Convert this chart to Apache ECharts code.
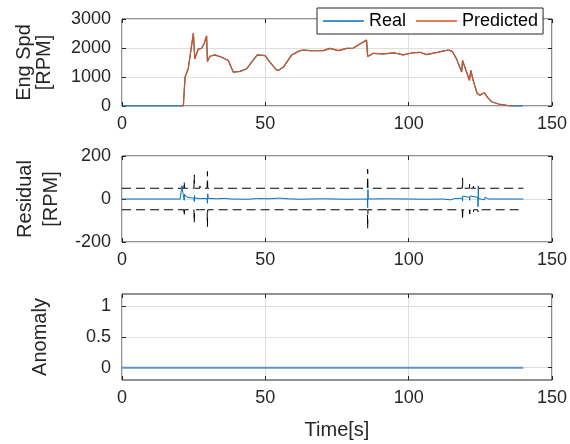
<!DOCTYPE html>
<html><head><meta charset="utf-8">
<script src="https://cdn.jsdelivr.net/npm/echarts@6/dist/echarts.min.js"></script>
<style>html,body{margin:0;padding:0;background:#fff}#c{width:570px;height:444px}</style>
</head><body><div id="c"></div>
<script>
// ---- data ----
const engT = [0, 20.3, 20.9, 21.4, 22.0, 23.1, 24.9, 25.4, 26.6, 27.8, 28.6, 29.5, 29.8, 30.7, 32.4, 34.8, 37.1, 38.8, 41.2, 43.5, 45.2, 47.2, 49.9, 51.6, 53.7, 54.5, 56.3, 59.2, 62.1, 63.3, 65.6, 68.0, 70.2, 72.6, 75.5, 78.4, 80.7, 83.0, 85.3, 85.7, 87.7, 91.1, 95.2, 98.1, 101.0, 103.9, 106.2, 109.1, 111.5, 113.8, 115.2, 116.7, 118.5, 118.8, 121.2, 121.7, 122.5, 123.9, 124.9, 126.4, 127.8, 129.0, 131.3, 134.2, 136.5, 139.9];
const realRPM = [0, 0, 60, 20, 1000, 1284, 2511, 1625, 1966, 1989, 2136, 2420, 1534, 1716, 1761, 1682, 1568, 1170, 1193, 1284, 1511, 1761, 1738, 1511, 1261, 1227, 1341, 1761, 1909, 1931, 1908, 1905, 1908, 1988, 1908, 1988, 2000, 2136, 2272, 1704, 1818, 1795, 1829, 1761, 1829, 1852, 1772, 1829, 1886, 1932, 1886, 1625, 1170, 1568, 886, 1227, 886, 432, 375, 455, 261, 148, 68, 23, 0, 0];
const predRPM = [null, 0, 35, 0, 1000, 1284, 2511, 1625, 1966, 1989, 2136, 2420, 1534, 1716, 1761, 1682, 1568, 1170, 1193, 1284, 1511, 1761, 1738, 1511, 1261, 1227, 1341, 1761, 1909, 1931, 1908, 1905, 1908, 1988, 1908, 1988, 2000, 2136, 2272, 1704, 1818, 1795, 1829, 1761, 1829, 1852, 1772, 1829, 1886, 1932, 1886, 1625, 1170, 1568, 886, 1227, 886, 432, 375, 455, 261, 148, 68, 23, 0, null];

const resT = [0, 20.3, 20.9, 21.3, 21.6, 21.7, 21.8, 22.4, 23.5, 25.1, 25.2, 25.3, 25.5, 27.5, 29.7, 29.8, 29.9, 30.1, 33, 36, 38, 44, 47, 51, 55, 58, 62, 70, 78, 85.6, 85.7, 85.8, 85.9, 92, 100, 106, 112, 114.6, 115, 116, 118.7, 118.8, 118.9, 119.5, 121.2, 121.3, 121.4, 122, 124.1, 124.2, 124.3, 124.4, 126.5, 126.6, 126.7, 128, 140];
const resV = [0, 0, 62, 25, 16, -6, 22, 10, 6, 4, -12, 16, 4, 2, 2, -20, 24, 3, 1, 3, 0, -1, 2, 1, 4, 1, -1, 1, -1, 0, -40, 44, 0, 1, 0, -1, 0, -4, -7, 2, 4, -10, 14, 6, 7, -6, 14, 8, 8, -36, 52, 2, -4, 8, 0, 0, 0];

const thrT = [0, 21.6, 21.7, 21.8, 25.1, 25.2, 25.3, 27.1, 27.2, 27.3, 29.7, 29.8, 29.9, 85.6, 85.7, 85.8, 118.7, 118.8, 118.9, 121.2, 121.3, 121.4, 122.5, 122.6, 122.7, 124.1, 124.2, 124.3, 140];
const thrUp = [50, 50, 82, 50, 50, 112, 50, 50, 60, 50, 50, 128, 50, 50, 138, 50, 50, 98, 50, 50, 70, 50, 50, 60, 50, 50, 62, 50, 50];
const thrLo = [-50, -50, -80, -50, -50, -111, -50, -50, -58, -50, -50, -129, -50, -50, -138, -50, -50, -98, -50, -50, -70, -50, -50, -60, -50, -50, -60, -50, -50];

const anomT = [0, 140];
const anomV = [0, 0];

const xTicks = {min: 0, max: 150, interval: 50};
const yEng = {min: 0, max: 3000, interval: 1000};
const yRes = {min: -200, max: 200, interval: 200};
const yAnom = {min: -0.2, max: 1.2, ticks: [0, 0.5, 1]};

// ---- chart ----
const FONT = '"Liberation Sans", Arial, Helvetica, sans-serif';
const AX = '#262626';
const GRIDC = '#dedede';
const pairs = (t, v) => t.map((x, i) => [x, v[i]]);
const fmt = v => String(v);

const grids = [
  {left: 122, top: 19, width: 430, height: 87},
  {left: 122, top: 156, width: 430, height: 86},
  {left: 122, top: 294, width: 430, height: 86}
].map(g => Object.assign(g, {show: true, borderColor: AX, borderWidth: 1, backgroundColor: 'transparent'}));

function tick() { return {show: true, inside: true, length: 4, lineStyle: {color: AX, width: 1}}; }

const xAxes = [], yAxes = [];
for (let i = 0; i < 3; i++) {
  xAxes.push({
    type: 'value', gridIndex: i, position: 'bottom', min: xTicks.min, max: xTicks.max, interval: xTicks.interval,
    axisLine: {show: false, onZero: false}, axisTick: tick(),
    axisLabel: {color: AX, fontSize: 18, margin: 9, fontFamily: FONT, formatter: fmt},
    splitLine: {show: true, lineStyle: {color: GRIDC, width: 1}},
    name: i === 2 ? 'Time[s]' : '', nameLocation: 'middle', nameGap: 40,
    nameTextStyle: {color: AX, fontSize: 20, fontFamily: FONT}
  });
  xAxes.push({
    type: 'value', gridIndex: i, position: 'top', min: xTicks.min, max: xTicks.max, interval: xTicks.interval,
    axisLine: {show: false, onZero: false}, axisTick: tick(), axisLabel: {show: false}, splitLine: {show: false}
  });
}
const ySpecs = [
  {r: yEng, name: 'Eng Spd\n[RPM]', gap: 68, lh: 20},
  {r: yRes, name: 'Residual\n[RPM]', gap: 46, lh: 26},
  {r: yAnom, name: 'Anomaly', gap: 72, lh: 20}
];
ySpecs.forEach((s, i) => {
  const base = {type: 'value', gridIndex: i, min: s.r.min, max: s.r.max};
  if (s.r.interval) base.interval = s.r.interval;
  const tk = tick();
  if (s.r.ticks) tk.customValues = s.r.ticks;
  const lab = {color: AX, fontSize: 18, margin: 11, fontFamily: FONT, formatter: fmt};
  if (s.r.ticks) lab.customValues = s.r.ticks;
  yAxes.push(Object.assign({}, base, {
    position: 'left', axisLine: {show: false, onZero: false}, axisTick: tk, axisLabel: lab,
    splitLine: {show: true, lineStyle: {color: GRIDC, width: 1}},
    name: s.name, nameLocation: 'middle', nameRotate: 90, nameGap: s.gap,
    nameTextStyle: {color: AX, fontSize: 20, lineHeight: s.lh, fontFamily: FONT}
  }));
  const tk2 = tick();
  if (s.r.ticks) tk2.customValues = s.r.ticks;
  yAxes.push(Object.assign({}, base, {
    position: 'right', axisLine: {show: false, onZero: false}, axisTick: tk2, axisLabel: {show: false}, splitLine: {show: false}
  }));
});

const BLUE = '#0072BD', RED = '#D95319';
const option = {
  animation: false,
  textStyle: {fontFamily: FONT},
  grid: grids,
  xAxis: xAxes,
  yAxis: yAxes,
  legend: {
    data: [{name: 'Real', icon: 'rect'}, {name: 'Predicted', icon: 'rect'}], left: 317, top: 8, orient: 'horizontal',
    backgroundColor: '#fff', borderColor: AX, borderWidth: 1, borderRadius: 0,
    padding: [4, 5, 4, 6], itemWidth: 41, itemHeight: 1.3, itemGap: 10,
    textStyle: {color: '#000', fontSize: 18, fontFamily: FONT}
  },
  series: [
    {name: 'Real', type: 'line', xAxisIndex: 0, yAxisIndex: 0, data: pairs(engT, realRPM), symbol: 'none',
     clip: false, lineStyle: {color: BLUE, width: 1.2}, itemStyle: {color: BLUE}, z: 2},
    {name: 'Predicted', type: 'line', xAxisIndex: 0, yAxisIndex: 0, data: pairs(engT, predRPM), symbol: 'none',
     clip: false, lineStyle: {color: RED, width: 1.2}, itemStyle: {color: RED}, z: 3},
    {name: 'ThrUp', type: 'line', xAxisIndex: 2, yAxisIndex: 2, data: pairs(thrT, thrUp), symbol: 'none',
     lineStyle: {color: '#000', width: 1, type: [9, 5]}, z: 2},
    {name: 'ThrLo', type: 'line', xAxisIndex: 2, yAxisIndex: 2, data: pairs(thrT, thrLo), symbol: 'none',
     lineStyle: {color: '#000', width: 1, type: [9, 5]}, z: 2},
    {name: 'Residual', type: 'line', xAxisIndex: 2, yAxisIndex: 2, data: pairs(resT, resV), symbol: 'none',
     lineStyle: {color: BLUE, width: 1}, z: 3},
    {name: 'Anomaly', type: 'line', xAxisIndex: 4, yAxisIndex: 4, data: pairs(anomT, anomV), symbol: 'none',
     lineStyle: {color: '#5d94c6', width: 2}, z: 3}
  ]
};
const chart = echarts.init(document.getElementById('c'), null, {renderer: 'canvas'});
chart.setOption(option);
</script></body></html>
